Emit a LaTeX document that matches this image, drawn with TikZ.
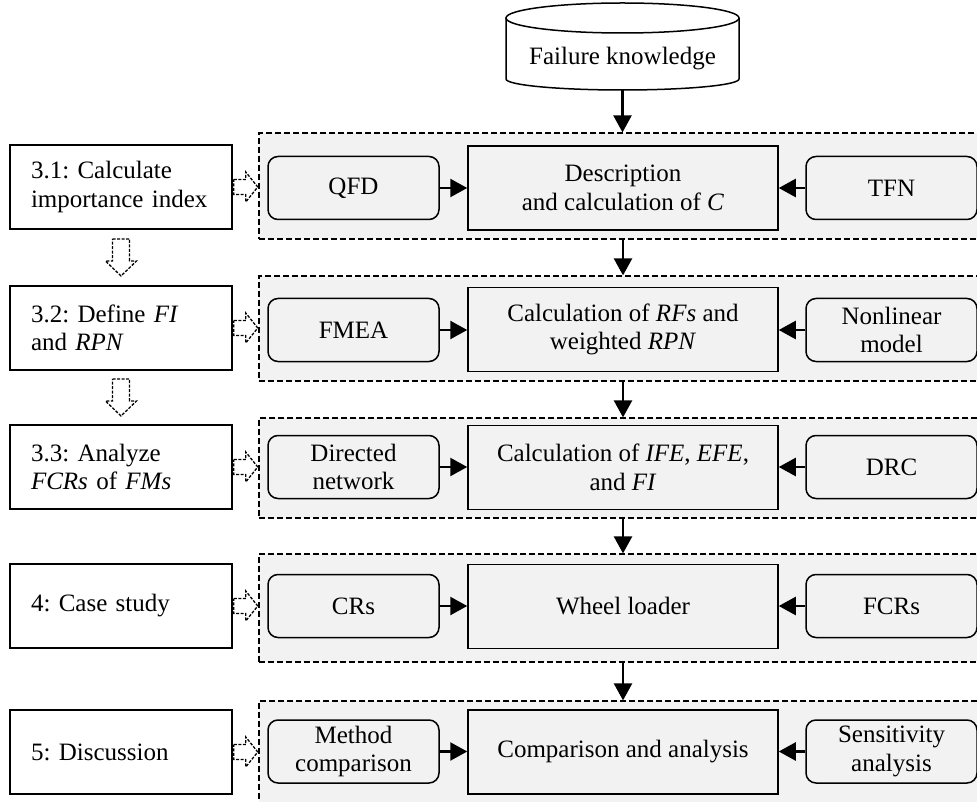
\documentclass[tikz,border=0pt]{standalone}
\usepackage{fontspec}
\setmainfont{Liberation Serif}
\usepackage{xcolor}
\usepackage{tikz}
\usetikzlibrary{arrows.meta,calc}

\definecolor{boxgray}{HTML}{F2F2F2}
\frenchspacing
\hyphenpenalty=10000

\tikzset{
  every node/.style={font=\fontsize{25}{28.5}\selectfont},
  stepbox/.style={draw,line width=1.5pt,fill=white,minimum width=222pt,minimum height=84pt,
    text width=180pt,inner xsep=21pt,align=left},
  calcbox/.style={draw,line width=1.5pt,fill=boxgray,minimum width=310pt,minimum height=84pt,align=center},
  sidebox/.style={draw,line width=1.5pt,fill=boxgray,rounded corners=10pt,minimum width=171pt,
    minimum height=63pt,align=center,inner sep=2pt},
  groupbox/.style={draw,line width=1.2pt,dash pattern=on 6pt off 3pt,fill=boxgray,minimum width=741pt},
  arr/.style={-{Triangle[length=17pt,width=18pt]},line width=2.4pt},
  hollow/.style={draw,line width=1.3pt,dash pattern=on 3pt off 1.5pt,fill=white},
  rhollow/.pic={\path[hollow] (0,-7.5)--++(12,0)--++(0,-7.5)--++(12,15)--++(-12,15)--++(0,-7.5)--++(-12,0)--cycle;},
  dhollow/.pic={\path[hollow] (-8.5,0)--++(17,0)--++(0,22)--++(7,0)--++(-15.5,15)--++(-15.5,-15)--++(7,0)--cycle;}
}

\begin{document}
\begin{tikzpicture}[x=1pt,y=-1pt]
\useasboundingbox (0,0) rectangle (977,802);
\clip (0,0) rectangle (977,802);

% dashed groups
\node[groupbox,minimum height=106pt] (d1) at (629.5,186) {};
\node[groupbox,minimum height=105pt] (d2) at (629.5,328.5) {};
\node[groupbox,minimum height=100pt] (d3) at (629.5,468) {};
\node[groupbox,minimum height=108pt] (d4) at (629.5,608) {};
\node[groupbox,minimum height=118pt] (d5) at (629.5,760) {};

% database
\draw[line width=1.5pt,fill=white] (506,18)--(506,79) arc[start angle=180,end angle=0,x radius=116.5,y radius=11]--(739,18);
\draw[line width=1.5pt,fill=white] (622.5,18) ellipse[x radius=116.5,y radius=15];
\node (fk) at (622.5,59) {Failure knowledge};
\coordinate (fkb) at (622.5,90);

% steps
\node[stepbox] (l1) at (121,187) {3.1: Calculate\\importance index};
\node[stepbox] (l2) at (121,328) {3.2: Define \textit{FI}\\and \textit{RPN}};
\node[stepbox] (l3) at (121,467) {3.3: Analyze\\\textit{FCRs} of \textit{FMs}};
\node[stepbox] (l4) at (121,606) {4: Case study};
\node[stepbox] (l5) at (121,752) {5: Discussion};

% row 1
\node[calcbox] (c1) at (623,188) {Description\\and calculation of \textit{C}};
\node[sidebox] (q1) at (353.5,188) {QFD};
\node[sidebox] (t1) at (891.5,188) {TFN};
% row 2
\node[calcbox] (c2) at (623,329.5) {Calculation of \textit{RFs} and\\weighted \textit{RPN}};
\node[sidebox] (q2) at (353.5,330) {FMEA};
\node[sidebox] (t2) at (891.5,330) {Nonlinear\\model};
% row 3
\node[calcbox] (c3) at (623,467.5) {Calculation of \textit{IFE}, \textit{EFE},\\and \textit{FI}};
\node[sidebox] (q3) at (353.5,467) {Directed\\network};
\node[sidebox] (t3) at (891.5,467) {DRC};
% row 4
\node[calcbox] (c4) at (623,606.5) {Wheel loader};
\node[sidebox] (q4) at (353.5,606) {CRs};
\node[sidebox] (t4) at (891.5,606) {FCRs};
% row 5
\node[calcbox] (c5) at (623,752) {Comparison and analysis};
\node[sidebox] (q5) at (353.5,751.5) {Method\\comparison};
\node[sidebox] (t5) at (891.5,751.5) {Sensitivity\\analysis};

% arrows
\draw[arr] (fkb)--(fkb |- d1.north);
\foreach \i/\j in {1/2,2/3,3/4,4/5}{
  \draw[arr] (d\i.south -| c\i)--(d\j.north -| c\i);
}
\foreach \i in {1,...,5}{
  \draw[arr] (q\i.east)--(q\i.east -| c\i.west);
  \draw[arr] (t\i.west)--(t\i.west -| c\i.east);
  \pic at ($(l\i.east)+(1,0)$) {rhollow};
}
\pic at ($(l1.south)!0.5!(l2.north)+(0,-18.5)$) {dhollow};
\pic at ($(l2.south)!0.5!(l3.north)+(0,-18.5)$) {dhollow};
\end{tikzpicture}
\end{document}
